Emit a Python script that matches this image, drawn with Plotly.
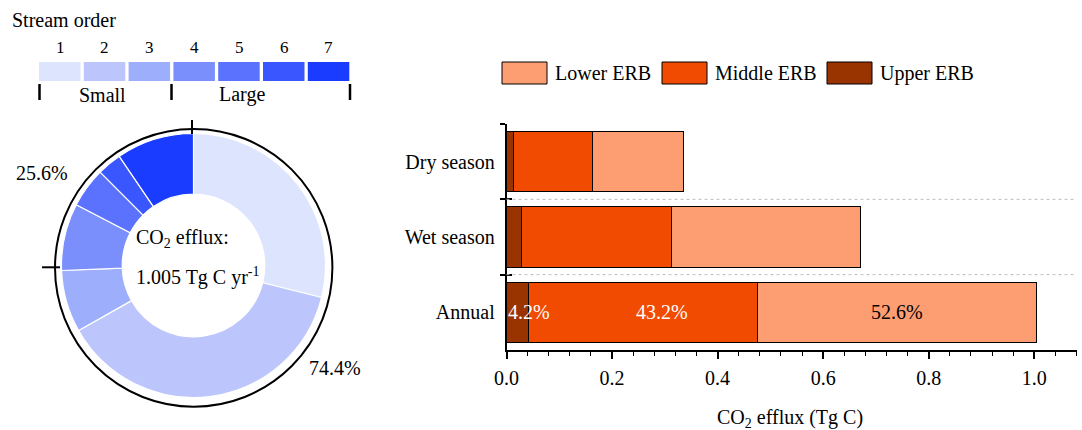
import plotly.graph_objects as go

W, H = 1082, 430
FONT = "Liberation Serif, Times New Roman, serif"

# ---------------- data ----------------
stream_orders = ["1", "2", "3", "4", "5", "6", "7"]
order_share = [28.9, 37.9, 7.6, 8.2, 4.9, 3.0, 9.5]          # % of CO2 efflux
order_colors = ["#DDE4FD", "#BCC6FC", "#9DAEFC", "#7A8FFC", "#5A72FD", "#3A56FE", "#1A3CFF"]
small_orders = 3                                               # orders 1-3 = small

categories = ["Dry season", "Wet season", "Annual"]
upper_erb = [0.013, 0.028, 0.042]
middle_erb = [0.150, 0.285, 0.434]
lower_erb = [0.173, 0.357, 0.529]
region_names = ["Upper ERB", "Middle ERB", "Lower ERB"]
region_colors = ["#993300", "#F04B00", "#FD9D72"]


def px(x):
    return x / W


def py(y):
    return 1 - y / H


def label(x, y, text, size=20, color="black", xanchor="center"):
    return dict(x=px(x), y=py(y), xref="paper", yref="paper", text=text, showarrow=False,
                xanchor=xanchor, yanchor="middle",
                font=dict(family=FONT, size=size, color=color))


fig = go.Figure()

# ---------------- donut ----------------
fig.add_trace(go.Pie(
    labels=stream_orders, values=order_share, sort=False, direction="clockwise",
    rotation=0, hole=0.54, textinfo="none", showlegend=False,
    marker=dict(colors=order_colors, line=dict(color="white", width=1.2)),
    domain=dict(x=[px(61.5), px(325.5)], y=[py(397.5), py(133.5)]),
))

# ---------------- stacked bars ----------------
series = [upper_erb, middle_erb, lower_erb]
for name, vals, col in zip(region_names, series, region_colors):
    fig.add_trace(go.Bar(
        y=categories, x=vals, name=name, orientation="h",
        marker=dict(color=col, line=dict(color="black", width=1)),
        showlegend=False, xaxis="x", yaxis="y",
    ))
# helper for crossing ticks on y-axis
fig.add_trace(go.Scatter(x=[0] * len(categories), y=categories, mode="markers",
                         marker=dict(opacity=0), showlegend=False, hoverinfo="skip",
                         xaxis="x", yaxis="y2"))

shapes = []
annotations = []

# dotted separators between categories
for i in range(len(categories) - 1):
    shapes.append(dict(type="line", xref="x domain", x0=0, x1=1, yref="y",
                       y0=i + 0.5, y1=i + 0.5,
                       line=dict(color="#BBBBBB", width=1, dash="dot")))

# percentage labels in annual bar
annual_idx = categories.index("Annual")
annual_vals = [s[annual_idx] for s in series]
annual_total = sum(annual_vals)
cum = 0
for k, v in enumerate(annual_vals):
    pct = f"{v / annual_total * 100:.1f}%"
    if k == 0:
        annotations.append(dict(x=0, y="Annual", xref="x", yref="y", text=pct, showarrow=False,
                                xanchor="left", yanchor="middle", xshift=-1,
                                font=dict(family=FONT, size=20, color="white")))
    else:
        annotations.append(dict(x=cum + v / 2, y="Annual", xref="x", yref="y", text=pct,
                                showarrow=False, xanchor="center", yanchor="middle",
                                xshift=19 if k == 1 else 0,
                                font=dict(family=FONT, size=20,
                                          color="white" if k == 1 else "black")))
    cum += v

# bar legend (Lower, Middle, Upper)
leg_x = [502, 662, 827]
for (name, col), x0 in zip(list(zip(region_names, region_colors))[::-1], leg_x):
    shapes.append(dict(type="rect", xref="paper", yref="paper",
                       x0=px(x0), x1=px(x0 + 45), y0=py(84), y1=py(62),
                       fillcolor=col, line=dict(color="black", width=1)))
    annotations.append(label(x0 + 51, 73, name, xanchor="left"))

# stream order legend
annotations.append(label(10, 20, "Stream order", xanchor="left"))
for i, (lab, col) in enumerate(zip(stream_orders, order_colors)):
    x0 = 39 + i * 44.8
    shapes.append(dict(type="rect", xref="paper", yref="paper",
                       x0=px(x0), x1=px(x0 + 41.5), y0=py(81), y1=py(62),
                       fillcolor=col, line=dict(width=0)))
    annotations.append(label(x0 + 21, 47, lab, size=17))
for xb in [39.5, 171.5, 350]:
    shapes.append(dict(type="line", xref="paper", yref="paper", x0=px(xb), x1=px(xb),
                       y0=py(84), y1=py(100), line=dict(color="black", width=2.5)))
annotations.append(label(102, 95, "Small"))
annotations.append(label(242, 95, "Large"))

# outer circle around donut and tick marks
shapes.append(dict(type="circle", xref="paper", yref="paper",
                   x0=px(55), x1=px(332.4), y0=py(406.7), y1=py(129),
                   line=dict(color="black", width=2)))
shapes.append(dict(type="line", xref="paper", yref="paper", x0=px(192), x1=px(192),
                   y0=py(120), y1=py(134), line=dict(color="black", width=2)))
shapes.append(dict(type="line", xref="paper", yref="paper", x0=px(42), x1=px(60),
                   y0=py(267.3), y1=py(267.3), line=dict(color="black", width=2)))

small_pct = sum(order_share[:small_orders])
large_pct = sum(order_share[small_orders:])
annotations.append(label(335, 368, f"{small_pct:.1f}%"))
annotations.append(label(42, 173, f"{large_pct:.1f}%"))
annotations.append(label(134, 238, "CO<sub>2</sub> efflux:", xanchor="left"))
annotations.append(label(134, 276, f"{annual_total:.3f} Tg C yr<sup>-1</sup>", xanchor="left"))

# x-axis title
annotations.append(label(790, 418, "CO<sub>2</sub> efflux (Tg C)"))

fig.update_layout(
    width=W, height=H, margin=dict(l=0, r=0, t=0, b=0, autoexpand=False),
    paper_bgcolor="white", plot_bgcolor="white",
    barmode="stack", bargap=0.2,
    font=dict(family=FONT, size=20, color="black"),
    xaxis=dict(domain=[px(506.5), px(1076.5)], range=[0, 1.08], anchor="y",
               tickmode="linear", tick0=0, dtick=0.2, tickformat=".1f",
               ticks="outside", ticklen=7, tickwidth=1.5, tickcolor="black",
               minor=dict(dtick=0.04, tick0=0, ticks="outside", ticklen=4,
                          tickwidth=1.2, tickcolor="black", showgrid=False),
               showline=True, linecolor="black", linewidth=1.5, showgrid=False,
               zeroline=False, ticklabelstandoff=2, automargin=False,
               tickfont=dict(family=FONT, size=20, color="black")),
    yaxis=dict(domain=[py(350), py(124)], type="category", categoryarray=categories,
               range=[len(categories) - 0.5, -0.5], anchor="x",
               tickson="boundaries", ticks="outside", ticklen=5, tickwidth=1.5,
               tickcolor="black", showline=True, linecolor="black", linewidth=1.5,
               showgrid=False, zeroline=False, ticklabelstandoff=6, automargin=False,
               tickfont=dict(family=FONT, size=20, color="black")),
    yaxis2=dict(domain=[py(350), py(124)], type="category", categoryarray=categories,
                range=[len(categories) - 0.5, -0.5], anchor="x", overlaying="y",
                side="left", tickson="boundaries", ticks="inside", ticklen=5, tickwidth=1.5,
                tickcolor="black", showticklabels=False, showline=False, showgrid=False,
                zeroline=False, automargin=False),
    shapes=shapes, annotations=annotations,
)

fig.write_html("out.html", config={"displayModeBar": False},
               post_script="document.body.style.margin='0';document.body.style.overflow='hidden';")
